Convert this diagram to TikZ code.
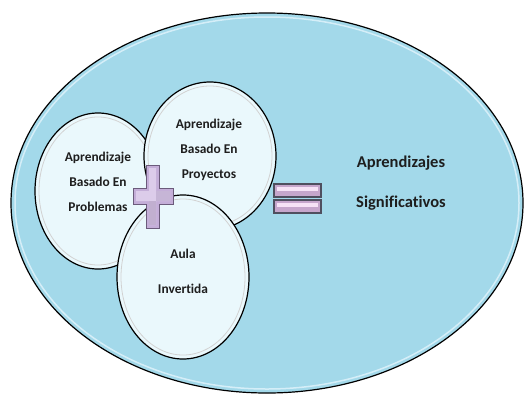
\documentclass[tikz,border=0pt]{standalone}
\usepackage{fontspec}
\setmainfont[Ligatures={NoCommon}]{Carlito}
\usetikzlibrary{shapes.geometric}
\definecolor{outerblue}{HTML}{A3D9EA}
\definecolor{innerfill}{HTML}{EAF8FC}
\definecolor{crossfill}{HTML}{C4AED8}
\definecolor{crosslight}{HTML}{DCCCEA}
\definecolor{crossedge}{HTML}{6B5B7B}
\definecolor{eqfill}{HTML}{C6A6CC}
\definecolor{eqlight}{HTML}{F6E2F6}
\definecolor{eqedge}{HTML}{4F4F5F}
\definecolor{txt}{HTML}{1E1E1E}
\tikzset{
  bubble/.style={ellipse, draw=black, line width=1.2pt, fill=innerfill, inner sep=0pt},
  ring/.style={draw=gray!35, line width=0.8pt},
  ctext/.style={align=center, font=\fontsize{13.4}{25}\selectfont\bfseries, text=txt},
  rtext/.style={align=center, font=\fontsize{16.5}{40}\selectfont\bfseries, text=txt},
  eqbar/.style={draw=eqedge, line width=1.1pt, fill=eqfill},
}
\begin{document}
\begin{tikzpicture}[x=1pt,y=-1pt]
\useasboundingbox (0,0) rectangle (524,394);
\fill[white] (0,0) rectangle (524,394);
% outer ellipse
\node[ellipse, draw=black, line width=1.2pt, fill=outerblue, minimum width=512pt, minimum height=380pt, inner sep=0pt] (outer) at (267,203) {};
\draw[white!60!cyan!20, line width=1.5pt, opacity=0.7] (267,203) ellipse [x radius=252, y radius=186];
% bubbles
\node[bubble, minimum width=126pt, minimum height=156pt] (pbl) at (98,191) {};
\draw[ring] (98,191) ellipse [x radius=59, y radius=74];
\node[bubble, minimum width=132pt, minimum height=148pt] (pry) at (210,156) {};
\draw[ring] (210,156) ellipse [x radius=62, y radius=70];
\node[bubble, minimum width=132pt, minimum height=164pt] (aula) at (183,277) {};
\draw[ring] (183,277) ellipse [x radius=62, y radius=78];
% texts
\node[ctext] (tpbl) at (98,182) {Aprendizaje\\Basado En\\Problemas};
\node[ctext] (tpry) at (209,150) {Aprendizaje\\Basado En\\Proyectos};
\node[ctext, font=\fontsize{13.4}{35}\selectfont\bfseries] (taula) at (183,271.5) {Aula\\Invertida};
\node[rtext] (tres) at (401,183) {Aprendizajes\\Significativos};
% plus sign
\filldraw[fill=crossfill, draw=crossedge, line width=1pt]
  (146,165) -- (159,165) -- (159,188) -- (173,188) -- (173,204) -- (159,204) -- (159,228) -- (146,228) -- (146,204) -- (133,204) -- (133,188) -- (146,188) -- cycle;
\fill[crosslight]
  (149,168) -- (156,168) -- (156,191) -- (170,191) -- (170,201) -- (156,201) -- (156,225) -- (149,225) -- (149,201) -- (136,201) -- (136,191) -- (149,191) -- cycle;
\fill[crossfill!85!black, opacity=0.5] (149,201) -- (156,201) -- (156,225) -- (149,225) -- cycle;
\fill[crossfill!85!black, opacity=0.4] (156,191) -- (170,191) -- (170,201) -- (156,201) -- cycle;
% equals sign
\filldraw[eqbar] (274,184) rectangle (321,197);
\fill[eqlight] (277,187) rectangle (318,191);
\filldraw[eqbar] (274,200) rectangle (321,213);
\fill[eqlight] (277,203) rectangle (318,207);
\end{tikzpicture}
\end{document}
